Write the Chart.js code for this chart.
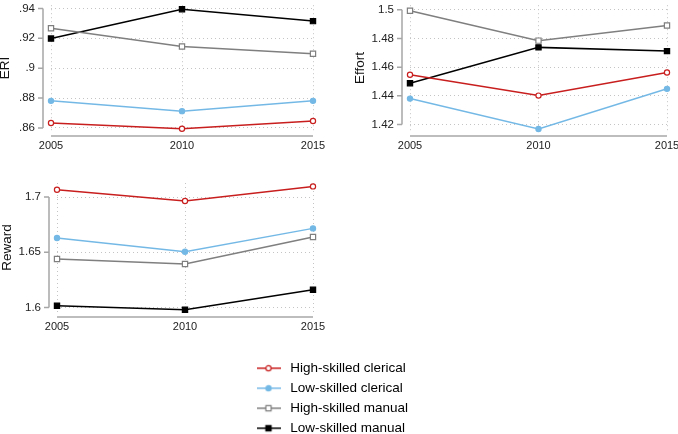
<!DOCTYPE html>
<html>
<head>
<meta charset="utf-8">
<script src="https://cdn.jsdelivr.net/npm/chart.js@4.4.1/dist/chart.umd.min.js"></script>
<style>
html, body { margin: 0; padding: 0; background: #fff; overflow: hidden; width: 678px; height: 434px; }
.box { position: absolute; }
</style>
</head>
<body>
<div class="box" style="left:0px;top:0px;width:330px;height:152px"><canvas id="eri"></canvas></div>
<div class="box" style="left:340px;top:0px;width:338px;height:152px"><canvas id="effort"></canvas></div>
<div class="box" style="left:0px;top:150px;width:330px;height:190px"><canvas id="reward"></canvas></div>
<div class="box" style="left:247px;top:355px;width:200px;height:200px"><canvas id="legend"></canvas></div>
<script>
// data
const years = [2005, 2010, 2015];
const groups = ['High-skilled clerical', 'Low-skilled clerical', 'High-skilled manual', 'Low-skilled manual'];

const eriHighClerical = [0.8633, 0.8594, 0.8646];
const eriLowClerical = [0.8781, 0.8712, 0.8781];
const eriHighManual = [0.9267, 0.9145, 0.9097];
const eriLowManual = [0.9198, 0.9395, 0.9315];
const eriTicks = [0.86, 0.88, 0.9, 0.92, 0.94];
const eriTickLabels = ['.86', '.88', '.9', '.92', '.94'];

const effortHighClerical = [1.4547, 1.4402, 1.4563];
const effortLowClerical = [1.4381, 1.4169, 1.4449];
const effortHighManual = [1.4993, 1.4785, 1.4891];
const effortLowManual = [1.4488, 1.4738, 1.4712];
const effortTicks = [1.42, 1.44, 1.46, 1.48, 1.5];
const effortTickLabels = ['1.42', '1.44', '1.46', '1.48', '1.5'];

const rewardHighClerical = [1.7066, 1.6964, 1.7096];
const rewardLowClerical = [1.6629, 1.6505, 1.6716];
const rewardHighManual = [1.6439, 1.6394, 1.6638];
const rewardLowManual = [1.6016, 1.598, 1.6161];
const rewardTicks = [1.6, 1.65, 1.7];
const rewardTickLabels = ['1.6', '1.65', '1.7'];

const font = '"Liberation Sans", Arial, Helvetica, sans-serif';
const gridColor = '#c4c4c4';
const axisColor = '#a6a6a6';
const styles = [
  { color: '#c81e1e', point: 'circle', fill: '#ffffff', r: 2.6 },
  { color: '#74b9e6', point: 'circle', fill: '#74b9e6', r: 2.6 },
  { color: '#7f7f7f', point: 'rect', fill: '#ffffff', r: 3.7 },
  { color: '#000000', point: 'rect', fill: '#000000', r: 3.7 }
];

// stata style axis lines, set off from the plot region
const stataAxes = {
  id: 'stataAxes',
  beforeDatasetsDraw(chart) {
    const { ctx, chartArea: a, scales: { x, y } } = chart;
    const yt = y.ticks.map(t => y.getPixelForValue(t.value));
    const ax = a.left - 8, ay = a.bottom + 5;
    ctx.save();
    ctx.strokeStyle = axisColor;
    ctx.lineWidth = 1.5;
    ctx.beginPath();
    ctx.moveTo(ax, Math.min(...yt));
    ctx.lineTo(ax, Math.max(...yt));
    yt.forEach(p => { ctx.moveTo(ax - 5, p); ctx.lineTo(ax, p); });
    ctx.stroke();
    ctx.strokeStyle = '#bdbdbd';
    ctx.lineWidth = 2;
    ctx.beginPath();
    ctx.moveTo(x.getPixelForValue(x.min), ay);
    ctx.lineTo(x.getPixelForValue(x.max), ay);
    ctx.stroke();
    ctx.restore();
  }
};

function dataset(i, values) {
  const s = styles[i];
  return {
    label: groups[i],
    data: values.map((v, k) => ({ x: years[k], y: v })),
    borderColor: s.color,
    borderWidth: 1.5,
    pointStyle: s.point,
    pointRadius: s.r,
    pointBorderWidth: 1.2,
    pointBorderColor: s.color,
    pointBackgroundColor: s.fill,
    tension: 0,
    clip: false
  };
}

function panel(id, box, area, yTitle, titlePad, yTicks, yLabels, yMin, yMax, series) {
  new Chart(document.getElementById(id).getContext('2d'), {
    type: 'line',
    data: { datasets: series.map((v, i) => dataset(i, v)) },
    options: {
      responsive: true,
      maintainAspectRatio: false,
      animation: false,
      layout: { padding: { left: 0, top: area.t - box.y, right: box.x + box.w - area.r, bottom: box.y + box.h - area.b - 18 } },
      plugins: { legend: { display: false }, tooltip: { enabled: false } },
      scales: {
        x: {
          type: 'linear', min: years[0], max: years[years.length - 1],
          afterBuildTicks: s => { s.ticks = years.map(v => ({ value: v })); },
          afterFit: s => { s.height = 18; s.paddingLeft = 0; s.paddingRight = 0; },
          grid: { color: gridColor, drawTicks: false },
          border: { display: false, dash: [1, 3] },
          ticks: { padding: 8, color: '#222', font: { family: font, size: 11 }, callback: v => String(v) }
        },
        y: {
          min: yMin, max: yMax,
          afterBuildTicks: s => { s.ticks = yTicks.map(v => ({ value: v })); },
          afterFit: s => { s.width = area.l - box.x; s.paddingTop = 0; s.paddingBottom = 0; },
          grid: { color: gridColor, drawTicks: false },
          border: { display: false, dash: [1, 3] },
          ticks: { padding: 16, color: '#222', font: { family: font, size: 11.5 }, callback: (v, i) => yLabels[i] },
          title: { display: true, text: yTitle, color: '#111', font: { family: font, size: 13.5, lineHeight: 1 }, padding: { top: titlePad, bottom: 0 } }
        }
      }
    },
    plugins: [stataAxes]
  });
}

panel('eri', { x: 0, y: 0, w: 330, h: 152 }, { l: 51, r: 313, t: 2, b: 131 }, 'ERI', -1,
  eriTicks, eriTickLabels, 0.85791, 0.94216,
  [eriHighClerical, eriLowClerical, eriHighManual, eriLowManual]);

panel('effort', { x: 340, y: 0, w: 338, h: 152 }, { l: 410, r: 667, t: 2, b: 131 }, 'Effort', 13.5,
  effortTicks, effortTickLabels, 1.41551, 1.5032,
  [effortHighClerical, effortLowClerical, effortHighManual, effortLowManual]);

panel('reward', { x: 0, y: 150, w: 330, h: 190 }, { l: 57, r: 313, t: 183, b: 312 }, 'Reward', 0.5,
  rewardTicks, rewardTickLabels, 1.59593, 1.71267,
  [rewardHighClerical, rewardLowClerical, rewardHighManual, rewardLowManual]);

// legend symbol: short line with the marker in the middle
function legendIcon(i) {
  const s = styles[i];
  const c = document.createElement('canvas');
  c.width = 24; c.height = 10;
  const g = c.getContext('2d');
  g.strokeStyle = s.color;
  g.lineWidth = 1.5;
  g.beginPath(); g.moveTo(0, 5); g.lineTo(24, 5); g.stroke();
  g.fillStyle = s.fill;
  g.lineWidth = 1.2;
  g.beginPath();
  if (s.point === 'circle') g.arc(12, 5, s.r, 0, Math.PI * 2);
  else g.rect(12 - 2.6, 2.4, 5.2, 5.2);
  g.fill(); g.stroke();
  return c;
}

new Chart(document.getElementById('legend').getContext('2d'), {
  type: 'line',
  data: { datasets: groups.map((g, i) => ({ label: g, data: [] })) },
  options: {
    responsive: true,
    maintainAspectRatio: false,
    animation: false,
    scales: { x: { display: false }, y: { display: false } },
    plugins: {
      tooltip: { enabled: false },
      legend: {
        position: 'top',
        align: 'start',
        labels: {
          usePointStyle: true,
          pointStyleWidth: 30,
          padding: 6.5,
          color: '#111',
          font: { family: font, size: 13.5 },
          generateLabels: chart => chart.data.datasets.map((d, i) => ({
            text: d.label, pointStyle: legendIcon(i), fillStyle: '#fff', strokeStyle: '#fff',
            lineWidth: 0, hidden: false, datasetIndex: i
          }))
        }
      }
    }
  }
});
</script>
</body>
</html>
